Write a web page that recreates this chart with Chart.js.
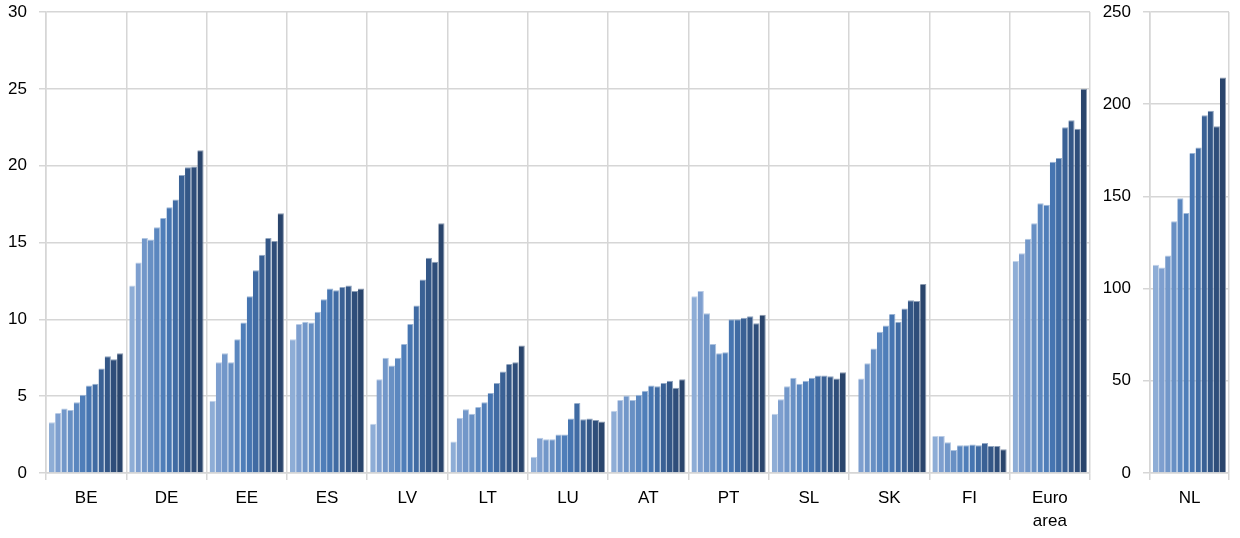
<!DOCTYPE html>
<html>
<head>
<meta charset="utf-8">
<script src="https://cdn.jsdelivr.net/npm/chart.js@4.4.1/dist/chart.umd.min.js"></script>
<style>
  body { margin: 0; background: #fff; }
  #wrap { position: relative; width: 1240px; height: 538px; }
  #mainChart { position: absolute; left: 0; top: 0; }
  #nlChart { position: absolute; left: 1095px; top: 0; }
</style>
</head>
<body>
<div id="wrap">
  <canvas id="mainChart" width="1100" height="538"></canvas>
  <canvas id="nlChart" width="145" height="538"></canvas>
</div>
<script>
// countries on the left axis (0-30)
var categories = ['BE', 'DE', 'EE', 'ES', 'LV', 'LT', 'LU', 'AT', 'PT', 'SL', 'SK', 'FI', ['Euro', 'area']];

// 12 periods per country
var BE = [3.3, 3.9, 4.2, 4.1, 4.6, 5.1, 5.7, 5.8, 6.8, 7.6, 7.4, 7.8];
var DE = [12.2, 13.7, 15.3, 15.2, 16.0, 16.6, 17.3, 17.8, 19.4, 19.9, 19.95, 21.0];
var EE = [4.7, 7.2, 7.8, 7.2, 8.7, 9.8, 11.5, 13.2, 14.2, 15.3, 15.1, 16.9];
var ES = [8.7, 9.7, 9.85, 9.8, 10.5, 11.3, 12.0, 11.9, 12.1, 12.2, 11.85, 12.0];
var LV = [3.2, 6.1, 7.5, 7.0, 7.5, 8.4, 9.7, 10.9, 12.6, 14.0, 13.75, 16.25];
var LT = [2.05, 3.6, 4.15, 3.85, 4.3, 4.6, 5.2, 5.85, 6.6, 7.1, 7.2, 8.3];
var LU = [1.05, 2.3, 2.2, 2.2, 2.5, 2.5, 3.55, 4.55, 3.5, 3.55, 3.45, 3.35];
var AT = [4.05, 4.75, 5.05, 4.75, 5.1, 5.35, 5.7, 5.65, 5.85, 6.0, 5.55, 6.1];
var PT = [11.5, 11.85, 10.4, 8.4, 7.8, 7.85, 10.0, 10.0, 10.1, 10.2, 9.75, 10.3];
var SL = [3.85, 4.8, 5.65, 6.2, 5.8, 6.0, 6.2, 6.35, 6.35, 6.3, 6.15, 6.55];
var SK = [null, 6.15, 7.15, 8.1, 9.2, 9.6, 10.35, 9.85, 10.7, 11.25, 11.2, 12.3];
var FI = [2.4, 2.4, 2.0, 1.5, 1.8, 1.8, 1.85, 1.8, 1.95, 1.75, 1.75, 1.55];
var EA = [13.8, 14.3, 15.25, 16.25, 17.55, 17.45, 20.25, 20.5, 22.5, 22.95, 22.4, 25.0];

// NL on its own axis (0-250)
var nlLabel = ['NL'];
var NL = [113, 111.5, 118, 136.5, 149, 141, 173.5, 176.5, 194, 196.5, 188, 214.5];

var leftTicks = { min: 0, max: 30, step: 5 };
var rightTicks = { min: 0, max: 250, step: 50 };

// light to dark blue, one per period
var colors = ['#8eadd6', '#7e9fcf', '#7297c9', '#6890c4', '#5b87bf', '#4f7eb9',
              '#4675b1', '#406ba3', '#3a6195', '#345787', '#2f4e7a', '#2a456c'];

var countries = [BE, DE, EE, ES, LV, LT, LU, AT, PT, SL, SK, FI, EA];

var fontFamily = "Arial, 'Liberation Sans', sans-serif";
var gridColor = '#d6d6d6';

// lighter tint of a bar colour, used for the thin outline
function tint(hex, k) {
    var n = parseInt(hex.slice(1), 16);
    var r = (n >> 16) & 255, g = (n >> 8) & 255, b = n & 255;
    r = Math.round(r + (255 - r) * k);
    g = Math.round(g + (255 - g) * k);
    b = Math.round(b + (255 - b) * k);
    return 'rgb(' + r + ',' + g + ',' + b + ')';
}

function makeDatasets(rows) {
    var sets = [];
    for (var p = 0; p < colors.length; p++) {
        sets.push({
            label: 'P' + (p + 1),
            data: rows.map(function (r) { return r[p]; }),
            backgroundColor: colors[p],
            borderColor: tint(colors[p], 0.45),
            borderWidth: { top: 1, right: 1, left: 0, bottom: 0 },
            borderSkipped: false,
            categoryPercentage: 0.925,
            barPercentage: 1.0,
        });
    }
    return sets;
}

function makeOptions(t, yWidth, padRight, edgeDark) {
    return {
        responsive: false,
        animation: false,
        devicePixelRatio: 1,
        layout: { padding: { top: 12, right: padRight, left: 0, bottom: 0 } },
        plugins: { legend: { display: false }, tooltip: { enabled: false } },
        scales: {
            x: {
                offset: true,
                grid: {
                    offset: true,
                    color: function (ctx) {
                        if (edgeDark && ctx.index === 1) return '#a8a8a8';
                        return gridColor;
                    },
                    lineWidth: function (ctx) {
                        return (edgeDark && ctx.index === 1) ? 2.5 : 1.5;
                    },
                    tickLength: 7,
                },
                border: { color: gridColor, width: 1.5 },
                ticks: {
                    color: '#000',
                    padding: 7,
                    maxRotation: 0,
                    autoSkip: false,
                    font: { family: fontFamily, size: 17, lineHeight: 1.35 },
                },
                afterFit: function (scale) {
                    scale.height = 65;
                    scale.paddingLeft = 0;
                    scale.paddingRight = 0;
                },
            },
            y: {
                min: t.min,
                max: t.max,
                grid: { color: gridColor, lineWidth: 1.5, tickLength: 7 },
                border: { color: gridColor, width: 1.5 },
                ticks: {
                    stepSize: t.step,
                    color: '#000',
                    padding: 12,
                    font: { family: fontFamily, size: 17 },
                },
                afterFit: function (scale) {
                    scale.width = yWidth;
                    scale.paddingTop = 0;
                    scale.paddingBottom = 0;
                },
            },
        },
    };
}

window.addEventListener('load', function () {
    new Chart(document.getElementById('mainChart').getContext('2d'), {
        type: 'bar',
        data: { labels: categories, datasets: makeDatasets(countries) },
        options: makeOptions(leftTicks, 46, 10, false),
    });

    new Chart(document.getElementById('nlChart').getContext('2d'), {
        type: 'bar',
        data: { labels: nlLabel, datasets: makeDatasets([NL]) },
        options: makeOptions(rightTicks, 55, 11, true),
    });
});
</script>
</body>
</html>
